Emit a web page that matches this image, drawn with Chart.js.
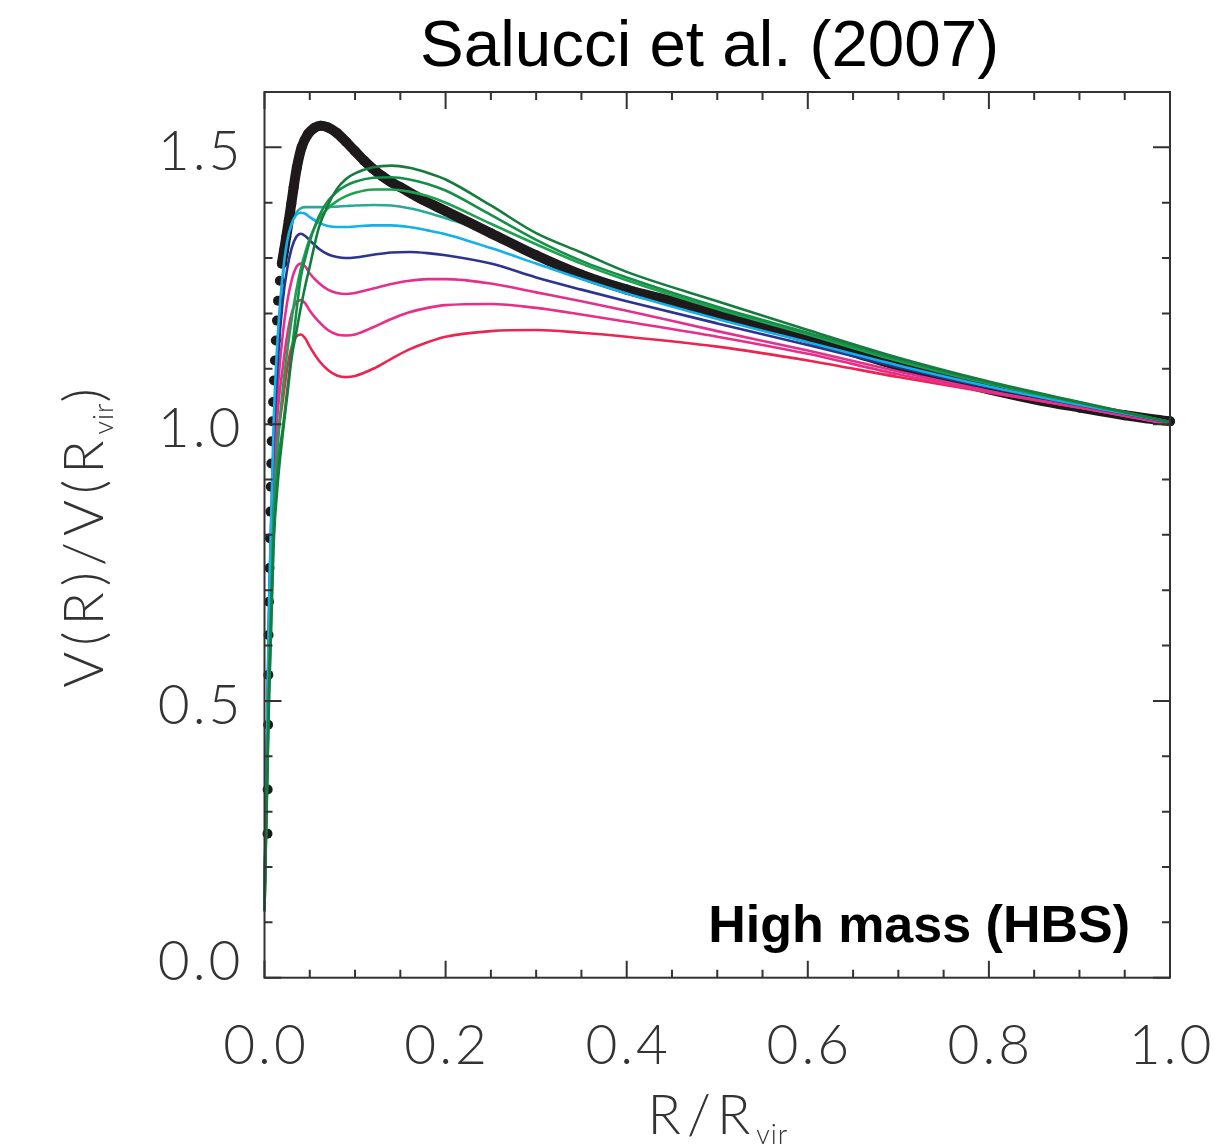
<!DOCTYPE html>
<html>
<head>
<meta charset="utf-8">
<script src="https://cdn.jsdelivr.net/npm/chart.js@4.4.1/dist/chart.umd.min.js"></script>
<style>
  html, body { margin: 0; padding: 0; background: #fff; }
  canvas { display: block; }
</style>
</head>
<body>
<canvas id="rc" width="1215" height="1148"></canvas>
<script>
// Radii (R/Rvir) at which the model rotation curves are sampled
const rSamples = [0, 0.005, 0.01, 0.015, 0.02, 0.025, 0.03, 0.035, 0.04, 0.045,
                  0.05, 0.06, 0.07, 0.08, 0.09, 0.10, 0.12, 0.14, 0.16, 0.18, 0.20,
                  0.25, 0.30, 0.35, 0.40, 0.50, 0.60, 0.70, 0.80, 0.90, 1.00];

// V(R)/V(Rvir) for each model curve
const darkGreenCurve = [0.12, 0.50, 0.78, 0.90, 0.98, 1.05, 1.12, 1.165, 1.21, 1.25,
                        1.285, 1.355, 1.395, 1.425, 1.443, 1.453, 1.464, 1.467, 1.463, 1.454, 1.442,
                        1.395, 1.345, 1.31, 1.275, 1.222, 1.17, 1.12, 1.077, 1.04, 1.004];
const greenCurve     = [0.12, 0.52, 0.80, 0.93, 0.99, 1.06, 1.13, 1.20, 1.265, 1.30,
                        1.33, 1.375, 1.403, 1.42, 1.431, 1.438, 1.445, 1.446, 1.442, 1.434, 1.422,
                        1.378, 1.333, 1.295, 1.265, 1.212, 1.165, 1.117, 1.075, 1.039, 1.004];
const lightGreenCurve = [0.12, 0.55, 0.83, 0.97, 1.06, 1.13, 1.19, 1.24, 1.28, 1.31,
                        1.335, 1.37, 1.39, 1.403, 1.412, 1.418, 1.424, 1.424, 1.42, 1.412, 1.40,
                        1.362, 1.325, 1.29, 1.26, 1.208, 1.162, 1.114, 1.073, 1.038, 1.004];
const tealCurve      = [0.13, 0.64, 0.96, 1.15, 1.26, 1.33, 1.365, 1.382, 1.39, 1.392,
                        1.392, 1.392, 1.392, 1.393, 1.394, 1.395, 1.396, 1.395, 1.39, 1.382, 1.372,
                        1.345, 1.31, 1.275, 1.25, 1.20, 1.155, 1.11, 1.07, 1.036, 1.004];
const skyBlueCurve   = [0.14, 0.68, 1.00, 1.17, 1.27, 1.33, 1.362, 1.378, 1.382, 1.38,
                        1.374, 1.364, 1.358, 1.356, 1.356, 1.357, 1.359, 1.359, 1.356, 1.35, 1.343,
                        1.318, 1.29, 1.262, 1.236, 1.19, 1.148, 1.106, 1.068, 1.035, 1.004];
const navyCurve      = [0.14, 0.66, 0.96, 1.12, 1.22, 1.28, 1.318, 1.338, 1.344, 1.34,
                        1.332, 1.317, 1.307, 1.302, 1.300, 1.301, 1.306, 1.310, 1.311, 1.309, 1.305,
                        1.29, 1.265, 1.243, 1.222, 1.182, 1.143, 1.103, 1.066, 1.034, 1.003];
const magentaCurve   = [0.14, 0.64, 0.93, 1.07, 1.16, 1.22, 1.26, 1.283, 1.29, 1.285,
                        1.272, 1.255, 1.243, 1.237, 1.235, 1.237, 1.245, 1.253, 1.259, 1.262, 1.262,
                        1.254, 1.238, 1.222, 1.205, 1.168, 1.133, 1.095, 1.06, 1.03, 1.0];
const pinkCurve      = [0.14, 0.62, 0.90, 1.03, 1.10, 1.16, 1.20, 1.22, 1.224, 1.218,
                        1.205, 1.185, 1.17, 1.162, 1.16, 1.162, 1.175, 1.19, 1.202, 1.21, 1.215,
                        1.217, 1.21, 1.198, 1.185, 1.158, 1.127, 1.09, 1.058, 1.03, 1.0];
const redCurve       = [0.14, 0.60, 0.87, 0.98, 1.04, 1.10, 1.14, 1.158, 1.162, 1.155,
                        1.14, 1.115, 1.098, 1.088, 1.085, 1.087, 1.10, 1.118, 1.135, 1.148, 1.158,
                        1.168, 1.17, 1.165, 1.158, 1.14, 1.115, 1.085, 1.057, 1.03, 1.0];

// Reference (black, dotted) curve: its own sampling
const blackR = [0.0033, 0.0035, 0.004, 0.0042, 0.0045, 0.005, 0.0055, 0.006, 0.0065, 0.007,
                0.0075, 0.008, 0.0088, 0.0095, 0.0105, 0.0115, 0.0125, 0.0138, 0.0149, 0.017,
                0.0192, 0.0215, 0.024, 0.0268, 0.0296, 0.0322, 0.0358, 0.041, 0.048, 0.055,
                0.062, 0.07, 0.08, 0.09, 0.10, 0.11, 0.12, 0.13, 0.14, 0.15,
                0.175, 0.20, 0.25, 0.30, 0.35, 0.40, 0.45, 0.50, 0.55, 0.60,
                0.65, 0.70, 0.75, 0.80, 0.85, 0.90, 0.95, 1.00];
const blackV = [0.26, 0.34, 0.457, 0.547, 0.619, 0.679, 0.74, 0.794, 0.842, 0.887,
                0.929, 0.969, 1.005, 1.04, 1.079, 1.115, 1.151, 1.187, 1.223, 1.259,
                1.29, 1.313, 1.338, 1.368, 1.398, 1.428, 1.464, 1.50, 1.524, 1.535,
                1.539, 1.536, 1.526, 1.510, 1.493, 1.476, 1.461, 1.448, 1.437, 1.428,
                1.405, 1.385, 1.345, 1.305, 1.27, 1.243, 1.222, 1.20, 1.178, 1.155,
                1.13, 1.105, 1.083, 1.063, 1.045, 1.030, 1.016, 1.005];

// Axis ticks
const xTickValues = [0, 0.2, 0.4, 0.6, 0.8, 1.0];
const xTickLabels = ['0.0', '0.2', '0.4', '0.6', '0.8', '1.0'];
const yTickValues = [0, 0.5, 1.0, 1.5];
const yTickLabels = ['0.0', '0.5', '1.0', '1.5'];

// [values, colour, draw order] — larger order sits lower in the stack
const colored = [
  [darkGreenCurve, '#177a3e', 1],
  [greenCurve, '#138f47', 1],
  [lightGreenCurve, '#1ea24f', 1],
  [tealCurve, '#2aa99a', 3],
  [skyBlueCurve, '#12b1ea', 1],
  [navyCurve, '#2d3390', 1],
  [magentaCurve, '#e2308c', 1],
  [pinkCurve, '#ea2d86', 1],
  [redCurve, '#ec2451', 1]
];

const pts = (xs, ys) => xs.map((x, i) => ({ x, y: ys[i] }));

const datasets = colored.map(([vals, col, ord]) => ({
  data: pts(rSamples, vals),
  borderColor: col,
  borderWidth: 2.6,
  pointRadius: 0,
  showLine: true,
  cubicInterpolationMode: 'monotone',
  clip: 4,
  order: ord
}));

datasets.push({
  data: pts(blackR, blackV),
  borderColor: '#1e1a1b',
  backgroundColor: '#1e1a1b',
  borderWidth: 10,
  borderCapStyle: 'round',
  borderJoinStyle: 'round',
  pointRadius: 5,
  pointBorderWidth: 0,
  pointBackgroundColor: '#1e1a1b',
  showLine: true,
  cubicInterpolationMode: 'monotone',
  clip: 8,
  order: 2,
  segment: {
    borderColor: c => (c.p0.parsed.x < 0.019 ? 'rgba(0,0,0,0)' : undefined)
  }
});

const LIGHT = '300 55px Lato, "Open Sans", "DejaVu Sans", sans-serif';
const INK = '#333333';

function runsWidth(ctx, runs) {
  let w = 0;
  runs.forEach(r => {
    ctx.font = r.font;
    [...r.t].forEach(ch => { w += ctx.measureText(ch).width + r.gap; });
  });
  return w;
}
function drawRuns(ctx, runs, x, y) {
  runs.forEach(r => {
    ctx.font = r.font;
    [...r.t].forEach(ch => {
      ctx.fillText(ch, x, y + (r.dy || 0));
      x += ctx.measureText(ch).width + r.gap;
    });
  });
}
function spacedText(ctx, text, x, y, align, gap) {
  const runs = [{ t: text, font: ctx.font, gap }];
  const w = runsWidth(ctx, runs) - gap;
  const sx = align === 'center' ? x - w / 2 : align === 'right' ? x - w : x;
  drawRuns(ctx, runs, sx, y);
}

const framePlugin = {
  id: 'frameAxes',
  afterDatasetsDraw(chart) {
    const { ctx, chartArea: a, scales: { x, y } } = chart;
    ctx.save();
    ctx.strokeStyle = INK;
    ctx.lineWidth = 2;
    ctx.strokeRect(a.left, a.top, a.right - a.left, a.bottom - a.top);

    ctx.beginPath();
    for (let i = 0; i <= 16; i++) {
      const py = y.getPixelForValue(i / 10);
      const len = i % 5 === 0 ? 17 : 8;
      ctx.moveTo(a.left, py); ctx.lineTo(a.left + len, py);
      ctx.moveTo(a.right, py); ctx.lineTo(a.right - len, py);
    }
    for (let i = 0; i <= 20; i++) {
      const px = x.getPixelForValue(i / 20);
      const len = i % 4 === 0 ? 17 : 8;
      ctx.moveTo(px, a.bottom); ctx.lineTo(px, a.bottom - len);
      ctx.moveTo(px, a.top); ctx.lineTo(px, a.top + len);
    }
    ctx.stroke();

    ctx.fillStyle = INK;
    ctx.textBaseline = 'alphabetic';
    ctx.font = LIGHT;
    xTickValues.forEach((v, i) => {
      spacedText(ctx, xTickLabels[i], x.getPixelForValue(v), a.bottom + 86, 'center', 3);
    });
    yTickValues.forEach((v, i) => {
      const base = Math.min(y.getPixelForValue(v) + 23, a.bottom + 2);
      spacedText(ctx, yTickLabels[i], a.left - 24, base, 'right', 3);
    });

    // x-axis title R/R_vir
    const SUB = '300 27px Lato, "Open Sans", "DejaVu Sans", sans-serif';
    const xRuns = [
      { t: 'R/R', font: LIGHT, gap: 6 },
      { t: 'vir', font: SUB, gap: 1, dy: 10 }
    ];
    const xw = runsWidth(ctx, xRuns);
    drawRuns(ctx, xRuns, 718 - xw / 2, a.bottom + 156);

    // y-axis title V(R)/V(R_vir)
    const yRuns = [
      { t: 'V(R)/V(R', font: LIGHT, gap: 6 },
      { t: 'vir', font: SUB, gap: 1, dy: 10 },
      { t: ')', font: LIGHT, gap: 0 }
    ];
    ctx.save();
    ctx.translate(103, 538);
    ctx.rotate(-Math.PI / 2);
    const yw = runsWidth(ctx, yRuns);
    drawRuns(ctx, yRuns, -yw / 2, 0);
    ctx.restore();

    // title and panel label
    ctx.fillStyle = '#000';
    ctx.font = '65.5px "Liberation Sans", Arial, sans-serif';
    ctx.textAlign = 'center';
    ctx.fillText('Salucci et al. (2007)', 709.5, 66);
    ctx.font = 'bold 52px "Liberation Sans", Arial, sans-serif';
    ctx.textAlign = 'right';
    ctx.fillText('High mass (HBS)', 1130, 942);
    ctx.restore();
  }
};

new Chart(document.getElementById('rc'), {
  type: 'scatter',
  data: { datasets },
  options: {
    responsive: false,
    animation: false,
    devicePixelRatio: 1,
    layout: { padding: { left: 264.5, top: 92, right: 45, bottom: 170.3 } },
    plugins: { legend: { display: false }, tooltip: { enabled: false }, title: { display: false } },
    scales: {
      x: { type: 'linear', min: 0, max: 1, display: false },
      y: { type: 'linear', min: 0, max: 1.6, display: false }
    }
  },
  plugins: [framePlugin]
});
</script>
</body>
</html>
